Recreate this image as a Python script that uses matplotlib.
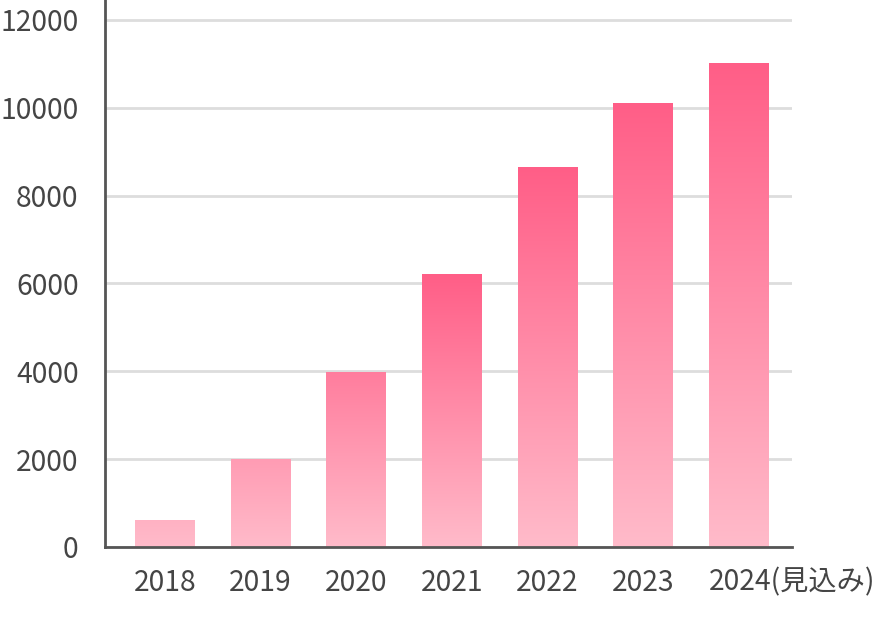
import numpy as np
import matplotlib
matplotlib.use("Agg")
import matplotlib.pyplot as plt
from matplotlib.colors import to_rgb

plt.rcParams['font.family'] = ['Noto Sans CJK JP', 'DejaVu Sans']

# データ
years = ['2018', '2019', '2020', '2021', '2022', '2023', '2024']
values = [600, 2000, 3980, 6200, 8630, 10100, 11000]
yticks = [0, 2000, 4000, 6000, 8000, 10000, 12000]
last_label = '2024(見込み)'

light = np.array(to_rgb('#ffbbca'))
deep = np.array(to_rgb('#ff5e87'))
text_col = '#454545'
fs = 20.3

fig = plt.figure(figsize=(8.88, 6.28), dpi=100)
ax = fig.add_axes([105/888, 1 - 547/628, (792-105)/888, 547/628])

x = np.arange(len(years))
w = 0.627

# グラデーションの棒
for xi, v in zip(x, values):
    k = min(1.0, v / 6000)
    f = np.linspace(0, 1, 256)[:, None]
    col = light + (deep - light) * (f * k)[..., None]
    img = np.repeat(col, 2, axis=1)
    ax.imshow(img, extent=(xi - w/2, xi + w/2, 0, v), origin='lower',
              aspect='auto', interpolation='bilinear', zorder=2)

ax.set_xlim(-0.627, 6.555)
ax.set_ylim(0, 12450)

ax.set_yticks(yticks)
ax.set_yticklabels([str(t) for t in yticks])
ax.set_xticks(x)
ax.set_xticklabels(years[:-1] + [''])
ax.tick_params(axis='y', length=0, pad=19, labelsize=fs, labelcolor=text_col)
ax.tick_params(axis='x', length=0, pad=15, labelsize=fs, labelcolor=text_col)

ax.yaxis.grid(True, color='#dddddd', linewidth=2, zorder=0)
ax.set_axisbelow(True)

for s in ['top', 'right']:
    ax.spines[s].set_visible(False)
for s in ['left', 'bottom']:
    ax.spines[s].set_color('#555555')
    ax.spines[s].set_linewidth(2)

# 最後のラベル（注記付き）
fig.canvas.draw()
ref = ax.get_xticklabels()[0]
ypix = ref.get_window_extent().y1
ax.annotate(last_label, xy=(x[-1] - w/2, 0), xycoords='data',
            xytext=(709, ypix), textcoords='figure pixels',
            ha='left', va='top', fontsize=fs, color=text_col)

fig.savefig('out.png', dpi=100)
